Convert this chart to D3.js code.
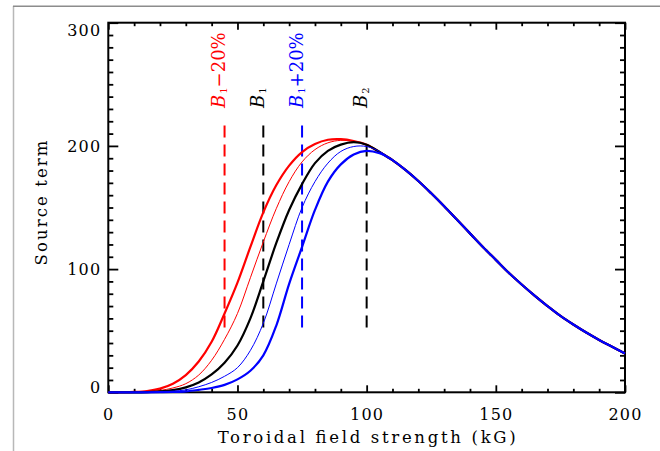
<!DOCTYPE html>
<html>
<head>
<meta charset="utf-8">
<script src="https://cdn.jsdelivr.net/npm/d3@7"></script>
<style>
body { margin: 0; background: #fff; }
svg { display: block; }
text { font-family: "DejaVu Serif", serif; }
</style>
</head>
<body>
<div id="chart"></div>
<script>
// field strength (kG) sampled along the curves
var fieldKG = [0, 10, 15, 20, 25, 30, 35, 40, 45, 50, 55, 60, 65, 70, 75, 80, 85, 90, 95, 100, 105,
               110, 115, 120, 125, 130, 135, 140, 145, 150, 155, 160, 165, 170, 175, 180, 185, 190, 195, 200];
// source term
var redThick  = [0, 0.3, 1, 3, 7, 14, 25, 41, 64, 89, 118, 146, 168, 184, 195, 201.5, 205, 205.5, 204, 201, 195,
                 188.5, 180.5, 171.5, 161.5, 151, 140, 129, 118, 107.5, 97, 87.5, 78.5, 70, 62, 55, 48.5, 42.5, 37, 31.5];
var redThin   = [0, 0.1, 0.5, 1.5, 3.5, 7, 14, 26, 43, 64, 93, 122, 149, 171, 187, 197, 202.5, 204.5, 203.5, 201, 195,
                 188.5, 180.5, 171.5, 161.5, 151, 140, 129, 118, 107.5, 97, 87.5, 78.5, 70, 62, 55, 48.5, 42.5, 37, 31.5];
var blackMid  = [0, 0, 0.2, 0.7, 1.8, 4, 8, 14.5, 24, 38, 60, 90, 121, 148, 169, 186, 196, 201, 203, 201, 195,
                 188.5, 180.5, 171.5, 161.5, 151, 140, 129, 118, 107.5, 97, 87.5, 78.5, 70, 62, 55, 48.5, 42.5, 37, 31.5];
var blueThin  = [0, 0, 0.1, 0.3, 0.8, 2, 4.5, 8, 13, 20, 34, 56, 88, 120, 150, 171, 186, 195.5, 199.5, 199.5, 195.5,
                 188.5, 180.5, 171.5, 161.5, 151, 140, 129, 118, 107.5, 97, 87.5, 78.5, 70, 62, 55, 48.5, 42.5, 37, 31.5];
var blueThick = [0, 0, 0, 0.1, 0.3, 0.8, 2, 3.5, 6, 10.5, 17.5, 30, 54, 88, 118, 148, 171, 185, 193, 196, 194,
                 188.5, 180.5, 171.5, 161.5, 151, 140, 129, 118, 107.5, 97, 87.5, 78.5, 70, 62, 55, 48.5, 42.5, 37, 31.5];

// marker lines
var markerB = [45, 60, 75, 100];
var markerColor = ["#ff0000", "#000000", "#0000ff", "#000000"];
var markerSub = ["1", "1", "1", "2"];
var markerTail = ["\u221220%", "", "+20%", ""];
var markerRange = [50.6, 216.5];

var xTicks = [0, 50, 100, 150, 200];
var yTicks = [0, 100, 200, 300];

var width = 660, height = 451;

var svg = d3.select("#chart").append("svg")
    .attr("width", width)
    .attr("height", height);

// outer frame bits
svg.append("line").attr("x1", 13.5).attr("x2", 13.5).attr("y1", 6).attr("y2", height)
    .attr("stroke", "#b8b8b8").attr("stroke-width", 1.5);
svg.append("line").attr("x1", 13).attr("x2", width).attr("y1", 6.2).attr("y2", 6.2)
    .attr("stroke", "#8c8c8c").attr("stroke-width", 1.5);

var x = d3.scaleLinear().domain([0, 200]).range([108.3, 625]);
var y = d3.scaleLinear().domain([0, 300]).range([392.3, 22.7]);

var minorX = d3.range(0, 201, 10).filter(function (d) { return d % 50 != 0; });
var minorY = d3.range(0, 301, 10).filter(function (d) { return d % 100 != 0; });

function styleAxis(g) {
    g.select(".domain").remove();
    g.selectAll(".tick line").attr("stroke", "#000").attr("stroke-width", 1.8);
    g.selectAll(".tick text").attr("fill", "#000").attr("font-size", 16).style("letter-spacing", "1.2px");
}

// bottom
svg.append("g").attr("transform", "translate(0," + y(0) + ")")
    .call(d3.axisBottom(x).tickValues(xTicks).tickSize(-7).tickPadding(16)).call(styleAxis);
svg.append("g").attr("transform", "translate(0," + y(0) + ")")
    .call(d3.axisBottom(x).tickValues(minorX).tickSize(-3.5).tickFormat("")).call(styleAxis);
// top
svg.append("g").attr("transform", "translate(0," + y(300) + ")")
    .call(d3.axisTop(x).tickValues(xTicks).tickSize(-7).tickFormat("")).call(styleAxis);
svg.append("g").attr("transform", "translate(0," + y(300) + ")")
    .call(d3.axisTop(x).tickValues(minorX).tickSize(-3.5).tickFormat("")).call(styleAxis);
// left
var leftAxis = svg.append("g").attr("transform", "translate(" + x(0) + ",0)")
    .call(d3.axisLeft(y).tickValues(yTicks).tickSize(-10).tickPadding(7)).call(styleAxis);
svg.append("g").attr("transform", "translate(" + x(0) + ",0)")
    .call(d3.axisLeft(y).tickValues(minorY).tickSize(-5).tickFormat("")).call(styleAxis);
// right
svg.append("g").attr("transform", "translate(" + x(200) + ",0)")
    .call(d3.axisRight(y).tickValues(yTicks).tickSize(-10).tickFormat("")).call(styleAxis);
svg.append("g").attr("transform", "translate(" + x(200) + ",0)")
    .call(d3.axisRight(y).tickValues(minorY).tickSize(-5).tickFormat("")).call(styleAxis);

// end labels sit a little inside the range
leftAxis.selectAll(".tick text").attr("dy", function (d) {
    if (d == 300) return "0.8em";
    if (d == 0) return "0.02em";
    return "0.32em";
});

// plot box
svg.append("rect")
    .attr("x", x(0)).attr("y", y(300))
    .attr("width", x(200) - x(0)).attr("height", y(0) - y(300))
    .attr("fill", "none").attr("stroke", "#000").attr("stroke-width", 2);

// dashed markers
markerB.forEach(function (b, i) {
    svg.append("line")
        .attr("x1", x(b)).attr("x2", x(b))
        .attr("y1", y(markerRange[1])).attr("y2", y(markerRange[0]))
        .attr("stroke", markerColor[i]).attr("stroke-width", 2)
        .attr("stroke-dasharray", "12,7");
    var t = svg.append("text")
        .attr("transform", "translate(" + (x(b) + 0.5) + ",108) rotate(-90)")
        .attr("fill", markerColor[i])
        .attr("font-size", 18);
    t.append("tspan").attr("font-style", "italic").text("B");
    t.append("tspan").attr("font-size", 10).attr("dy", 2).attr("dx", 1).text(markerSub[i]);
    if (markerTail[i]) t.append("tspan").attr("dy", -2).text(markerTail[i]);
});

// curves
var line = d3.line()
    .x(function (d) { return x(d[0]); })
    .y(function (d) { return y(Math.max(0, d[1])); })
    .curve(d3.curveCatmullRom.alpha(0.5));

var series = [
    {vals: redThick, color: "#ff0000", w: 2.2},
    {vals: redThin, color: "#ff0000", w: 1},
    {vals: blackMid, color: "#000000", w: 2.2},
    {vals: blueThin, color: "#0000ff", w: 1},
    {vals: blueThick, color: "#0000ff", w: 2.2}
];
series.forEach(function (s) {
    svg.append("path")
        .datum(d3.zip(fieldKG, s.vals))
        .attr("d", line)
        .attr("fill", "none")
        .attr("stroke", s.color)
        .attr("stroke-width", s.w);
});

// axis titles
svg.append("text")
    .attr("x", (x(0) + x(200)) / 2).attr("y", 443)
    .attr("text-anchor", "middle")
    .attr("font-size", 16.5)
    .attr("textLength", 298).attr("lengthAdjust", "spacing")
    .text("Toroidal field strength (kG)");

svg.append("text")
    .attr("transform", "translate(47,203) rotate(-90)")
    .attr("text-anchor", "middle")
    .attr("font-size", 16.5)
    .attr("textLength", 125).attr("lengthAdjust", "spacing")
    .text("Source term");
</script>
</body>
</html>
